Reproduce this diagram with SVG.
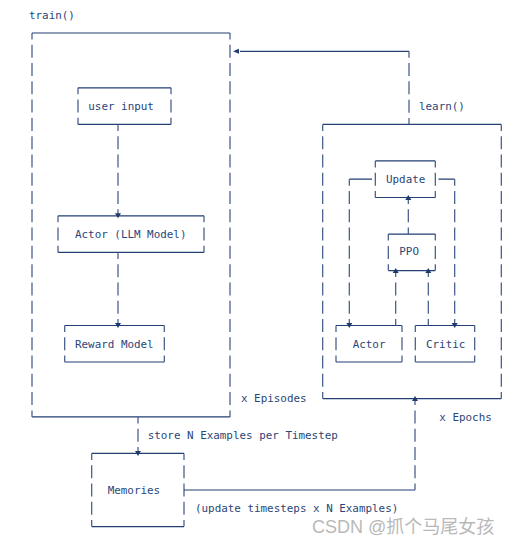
<svg xmlns="http://www.w3.org/2000/svg" width="519" height="547" viewBox="0 0 519 547">
<style>
  .s{stroke:#233f73;stroke-width:1.2;fill:none}
  .d{stroke:#3d5584;stroke-width:1.2;fill:none;stroke-dasharray:13 5.28;stroke-dashoffset:6.5}
  .t{font-family:"DejaVu Sans Mono","Liberation Mono",monospace;font-size:10.9px;fill:#2a4677}
  .a{fill:#1f3a6c}
  .wm{font-family:"Liberation Sans","Noto Sans CJK SC",sans-serif;font-size:18px;fill:#b9b9b9}
</style>
<defs>
  <path id="dn" d="M-3,-2.5 L3,-2.5 L0,2.5 Z"/>
  <path id="up" d="M-3,2.5 L3,2.5 L0,-2.5 Z"/>
  <path id="lf" d="M2.5,-2.5 L2.5,2.5 L-3.5,0 Z"/>
</defs>
<rect width="519" height="547" fill="#ffffff"/>

<g id="train-box">
  <text class="t" x="29" y="18.5">train()</text>
  <path class="s" d="M32,33 H230 M32,416.9 H230"/>
  <path class="d" d="M32,33 V416.9 M230,33 V416.9"/>
  <text class="t" x="241" y="402.4">x Episodes</text>
</g>

<g id="user-input">
  <path class="s" d="M78,87.8 H171 M78,124.4 H171"/>
  <path class="d" d="M78,87.8 V124.4 M171,87.8 V124.4"/>
  <text class="t" x="88.3" y="109.9">user input</text>
</g>

<g id="actor-llm">
  <path class="s" d="M58,215.8 H204 M58,252.4 H204"/>
  <path class="d" d="M58,215.8 V252.4 M204,215.8 V252.4"/>
  <text class="t" x="75" y="237.9">Actor (LLM Model)</text>
</g>

<g id="reward-model">
  <path class="s" d="M64.7,325.5 H164.3 M64.7,362 H164.3"/>
  <path class="d" d="M64.7,325.5 V362 M164.3,325.5 V362"/>
  <text class="t" x="75" y="347.6">Reward Model</text>
</g>

<g id="learn-box">
  <text class="t" x="419" y="109.9">learn()</text>
  <path class="s" d="M322.7,124.4 H501.3 M322.7,398.6 H501.3"/>
  <path class="d" d="M322.7,124.4 V398.6 M501.3,124.4 V398.6"/>
  <text class="t" x="439.3" y="420.7">x Epochs</text>
</g>

<g id="update">
  <path class="s" d="M375.3,160.96 H435.3 M375.3,197.5 H435.3"/>
  <path class="d" d="M375.3,160.96 V197.5 M435.3,160.96 V197.5"/>
  <text class="t" x="386" y="183">Update</text>
</g>

<g id="ppo">
  <path class="s" d="M388.3,234.1 H435.3 M388.3,270.6 H435.3"/>
  <path class="d" d="M388.3,234.1 V270.6 M435.3,234.1 V270.6"/>
  <text class="t" x="399.3" y="255.2">PPO</text>
</g>

<g id="actor">
  <path class="s" d="M336,325.5 H402 M336,362 H402"/>
  <path class="d" d="M336,325.5 V362 M402,325.5 V362"/>
  <text class="t" x="352.7" y="347.6">Actor</text>
</g>

<g id="critic">
  <path class="s" d="M415.3,325.5 H474.7 M415.3,362 H474.7"/>
  <path class="d" d="M415.3,325.5 V362 M474.7,325.5 V362"/>
  <text class="t" x="426" y="347.6">Critic</text>
</g>

<g id="memories">
  <path class="s" d="M91.7,453.4 H184 M91.7,526.6 H184"/>
  <path class="d" d="M91.7,453.4 V526.6 M184,453.4 V526.6"/>
  <text class="t" x="107.7" y="493.8">Memories</text>
</g>

<g id="connectors">
  <path class="s" d="M240,51.3 H409"/>
  <path class="d" d="M409,51.3 V124.4"/>
  <use href="#lf" class="a" x="236.5" y="51.3"/>

  <path class="d" d="M118,124.4 V215.8 M118,252.4 V325.5"/>
  <use href="#dn" class="a" x="118" y="215.8"/>
  <use href="#dn" class="a" x="118" y="325.5"/>

  <path class="s" d="M349.3,179.2 H372 M438.5,179.2 H454.7"/>
  <path class="d" d="M349.3,179.2 V325.5 M454.7,179.2 V325.5"/>
  <use href="#dn" class="a" x="349.3" y="325.5"/>
  <use href="#dn" class="a" x="454.7" y="325.5"/>

  <path class="d" d="M408.3,197.5 V234.1"/>
  <use href="#up" class="a" x="408.3" y="197.5"/>

  <path class="d" d="M395.7,270.6 V325.5 M428.3,270.6 V325.5"/>
  <use href="#up" class="a" x="395.7" y="270.6"/>
  <use href="#up" class="a" x="428.3" y="270.6"/>

  <path class="d" d="M138,416.9 V453.4"/>
  <use href="#dn" class="a" x="138" y="453.4"/>
  <text class="t" x="147.7" y="439">store N Examples per Timestep</text>

  <path class="d" d="M415,398.6 V490"/>
  <path class="s" d="M184,490 H415"/>
  <use href="#up" class="a" x="415" y="398.6"/>
  <text class="t" x="195" y="512.1">(update timesteps x N Examples)</text>
</g>

<text class="wm" x="312" y="533">CSDN @抓个马尾女孩</text>
</svg>
